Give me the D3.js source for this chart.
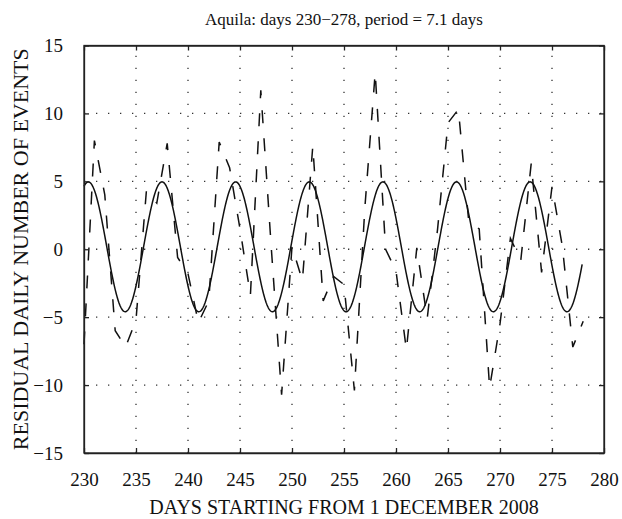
<!DOCTYPE html>
<html>
<head>
<meta charset="utf-8">
<script src="https://cdn.jsdelivr.net/npm/d3@7"></script>
<style>
	html, body { margin: 0; padding: 0; background: #fff; }
	text { font-family: "Liberation Serif", "DejaVu Serif", serif; fill: #111; }
</style>
</head>
<body>
<svg id="chart" width="622" height="519"></svg>
<script>
	/**
	 * Data
	 */
	const days = [230, 231, 232, 233, 234, 235, 236, 237, 238, 239,
		240, 241, 242, 243, 244, 245, 246, 247, 248, 249,
		250, 251, 252, 253, 254, 255, 256, 257, 258, 259,
		260, 261, 262, 263, 264, 265, 266, 267, 268, 269,
		270, 271, 272, 273, 274, 275, 276, 277, 278];

	const residuals = [-7.0, 8.0, 4.0, -6.0, -7.2, -5.2, 4.3, 3.4, 7.8, -0.6,
		-1.8, -5.4, -3.8, 7.9, 6.0, 1.5, -3.4, 11.7, 0.2, -10.7,
		0.2, -2.3, 7.6, -3.8, -2.0, -2.6, -10.4, 3.0, 13.0, 0.0,
		-1.6, -7.4, 0.1, -5.1, 1.5, 9.3, 10.3, 2.0, 1.5, -10.2,
		-5.5, 0.8, -0.8, 6.3, -1.7, 4.6, 0.2, -7.2, -5.3];

	// fitted sinusoid (title rounds the period to 7.1)
	const fitPeriod = 7.08;
	const fitAmplitude = 4.78;
	const fitOffset = 0.18;
	const fitPeakDay = 230.42;
	const fitRange = [230, 277.9];

	const xTicks = [230, 235, 240, 245, 250, 255, 260, 265, 270, 275, 280];
	const yTicks = [-15, -10, -5, 0, 5, 10, 15];

	const titleText = "Aquila: days 230\u2212278, period = 7.1 days";
	const xLabel = "DAYS STARTING FROM 1 DECEMBER 2008";
	const yLabel = "RESIDUAL DAILY NUMBER OF EVENTS";

	/**
	 * Layout
	 */
	let plotLeft = 84;
	let plotRight = 604;
	let plotTop = 45.5;
	let plotBottom = 453;
	let tickLen = 5;
	let ink = "#111";

	let svg = d3.select("#chart");

	let xScale = d3.scaleLinear().domain([230, 280]).range([plotLeft, plotRight]);
	let yScale = d3.scaleLinear().domain([-15, 15]).range([plotBottom, plotTop]);

	// Dotted grid
	let grid = svg.append("g").attr("class", "grid")
		.attr("stroke", "#333")
		.attr("stroke-width", 1.3)
		.attr("stroke-dasharray", "1.3,10.7");

	grid.selectAll(".gx")
		.data(xTicks.slice(1, -1))
		.enter()
		.append("line")
		.attr("x1", d => xScale(d)).attr("x2", d => xScale(d))
		.attr("y1", plotBottom).attr("y2", plotTop);

	grid.selectAll(".gy")
		.data(yTicks.slice(1, -1))
		.enter()
		.append("line")
		.attr("x1", plotLeft).attr("x2", plotRight)
		.attr("y1", d => yScale(d)).attr("y2", d => yScale(d));

	// Fitted curve
	let fitDays = d3.range(fitRange[0], fitRange[1], 0.05).concat([fitRange[1]]);
	let fitLine = d3.line()
		.x(d => xScale(d))
		.y(d => yScale(fitOffset + fitAmplitude * Math.cos(2 * Math.PI * (d - fitPeakDay) / fitPeriod)));

	svg.append("path")
		.datum(fitDays)
		.attr("fill", "none")
		.attr("stroke", ink)
		.attr("stroke-width", 1.5)
		.attr("d", fitLine);

	// Daily residuals (dashed)
	let dataLine = d3.line()
		.x((d, i) => xScale(days[i]))
		.y(d => yScale(d));

	svg.append("path")
		.datum(residuals)
		.attr("fill", "none")
		.attr("stroke", ink)
		.attr("stroke-width", 1.5)
		.attr("stroke-dasharray", "13,15")
		.attr("d", dataLine);

	// Axes: bottom/left with labels, top/right as ticks only (box)
	let xAxis = d3.axisBottom(xScale).tickValues(xTicks).tickSizeInner(-tickLen).tickSizeOuter(0).tickPadding(20);
	let yAxis = d3.axisLeft(yScale).tickValues(yTicks).tickSizeInner(-tickLen).tickSizeOuter(0).tickPadding(21)
		.tickFormat(d => d < 0 ? "\u2212" + Math.abs(d) : d);

	let gx = svg.append("g").attr("transform", `translate(0,${plotBottom})`).call(xAxis);
	let gy = svg.append("g").attr("transform", `translate(${plotLeft},0)`).call(yAxis);
	let gxTop = svg.append("g").attr("transform", `translate(0,${plotTop})`)
		.call(d3.axisTop(xScale).tickValues(xTicks).tickSizeInner(-tickLen).tickSizeOuter(0).tickFormat(""));
	let gyRight = svg.append("g").attr("transform", `translate(${plotRight},0)`)
		.call(d3.axisRight(yScale).tickValues(yTicks).tickSizeInner(-tickLen).tickSizeOuter(0).tickFormat(""));

	[gx, gy, gxTop, gyRight].forEach(g => {
		g.select(".domain").attr("stroke", "#222").attr("stroke-width", 1.3);
		g.selectAll(".tick line").attr("stroke", "#222").attr("stroke-width", 1.3);
		g.selectAll(".tick text")
			.attr("fill", ink)
			.style("font-family", "'Liberation Serif', serif")
			.style("font-size", "19px");
	});

	// Box
	svg.append("rect")
		.attr("x", plotLeft).attr("y", plotTop)
		.attr("width", plotRight - plotLeft).attr("height", plotBottom - plotTop)
		.attr("fill", "none")
		.attr("stroke", "#222")
		.attr("stroke-width", 1.3);

	// Titles
	svg.append("text")
		.attr("x", (plotLeft + plotRight) / 2)
		.attr("y", 25)
		.attr("text-anchor", "middle")
		.style("font-size", "17px")
		.text(titleText);

	svg.append("text")
		.attr("x", (plotLeft + plotRight) / 2)
		.attr("y", 514)
		.attr("text-anchor", "middle")
		.style("font-size", "20px")
		.text(xLabel);

	svg.append("text")
		.attr("transform", `translate(28,${(plotTop + plotBottom) / 2}) rotate(-90)`)
		.attr("text-anchor", "middle")
		.style("font-size", "22px")
		.text(yLabel);
</script>
</body>
</html>
